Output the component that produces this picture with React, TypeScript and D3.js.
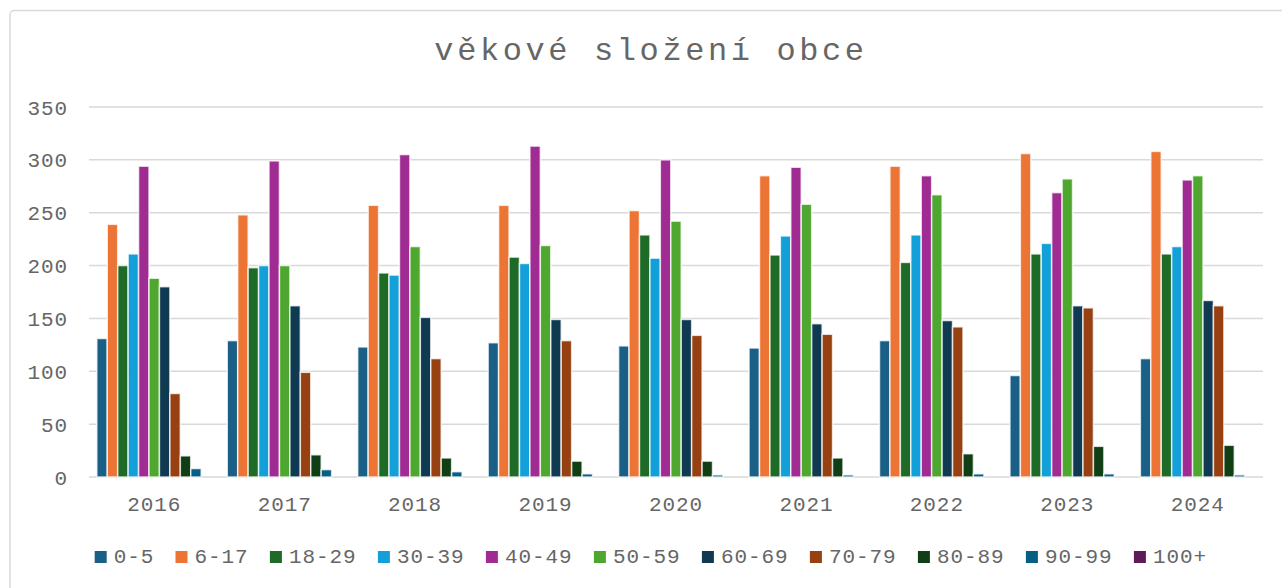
import React from "react";
import * as d3 from "d3";

const years = ["2016", "2017", "2018", "2019", "2020", "2021", "2022", "2023", "2024"];
const groups = ["0-5", "6-17", "18-29", "30-39", "40-49", "50-59", "60-69", "70-79", "80-89", "90-99", "100+"];
const colors = ["#1a5f85", "#ec7434", "#1e6b27", "#13a0d8", "#a02b93", "#4ea72e", "#0f3a52", "#974011", "#113f15", "#085f84", "#5f1a58"];

const v2016 = [131, 239, 200, 211, 294, 188, 180, 79, 20, 8, 0];
const v2017 = [129, 248, 198, 200, 299, 200, 162, 99, 21, 7, 0];
const v2018 = [123, 257, 193, 191, 305, 218, 151, 112, 18, 5, 0];
const v2019 = [127, 257, 208, 202, 313, 219, 149, 129, 15, 3, 0];
const v2020 = [124, 252, 229, 207, 300, 242, 149, 134, 15, 2, 0];
const v2021 = [122, 285, 210, 228, 293, 258, 145, 135, 18, 2, 0];
const v2022 = [129, 294, 203, 229, 285, 267, 148, 142, 22, 3, 0];
const v2023 = [96, 306, 211, 221, 269, 282, 162, 160, 29, 3, 0];
const v2024 = [112, 308, 211, 218, 281, 285, 167, 162, 30, 2, 0];
const values = [v2016, v2017, v2018, v2019, v2020, v2021, v2022, v2023, v2024];
const yTicks = [0, 50, 100, 150, 200, 250, 300, 350];

const W = 1282, H = 588;
const plotL = 89, plotR = 1263, plotT = 107, plotB = 477;
const FONT = "'Liberation Mono', 'DejaVu Sans Mono', monospace";
const TXT = "#666666";

export default function App() {
  const x = d3.scaleBand<string>().domain(years).range([plotL, plotR]).padding(0);
  const cw = x.bandwidth();
  const step = cw / (groups.length + 1.5);
  const inner = d3.scaleBand<string>().domain(groups)
    .range([step * 0.75, cw - step * 0.75]).padding(0);
  const y = d3.scaleLinear().domain([0, 350]).range([plotB, plotT]);

  // legend layout
  const charW = 13.6;
  const sq = 12, gapSq = 7, gapItem = 21;
  const widths = groups.map((g) => sq + gapSq + g.length * charW);
  const total = d3.sum(widths) + gapItem * (groups.length - 1);
  let lx = 651 - total / 2;
  const legendPos = widths.map((w) => { const p = lx; lx += w + gapItem; return p; });

  return (
    <svg width={W} height={H} style={{ position: "absolute", left: 0, top: 0, background: "#fff" }}
      fontFamily={FONT}>
      <rect x={10} y={10.5} width={1300} height={620} rx={4} fill="#fff" stroke="#d9d9d9" strokeWidth={1.5} />
      <text x={651} y={60} textAnchor="middle" fontSize={32} letterSpacing={3.6} fill={TXT}>věkové složení obce</text>
      {yTicks.map((t) => (
        <g key={t}>
          <line x1={plotL} x2={plotR} y1={y(t)} y2={y(t)} stroke="#d9d9d9" strokeWidth={1.5} />
          <text x={68} y={y(t)} dy="0.36em" textAnchor="end" fontSize={21} letterSpacing={0.9} fill={TXT}>{t}</text>
        </g>
      ))}
      {years.map((yr, i) => (
        <g key={yr} transform={`translate(${x(yr)},0)`}>
          {groups.map((g, j) => {
            const v = values[i][j];
            if (v <= 0) return null;
            return (
              <rect key={g} x={inner(g)!} y={y(v)} width={inner.bandwidth()} height={y(0) - y(v)}
                fill={colors[j]} stroke="#ffffff" strokeOpacity={0.75} strokeWidth={1.5} />
            );
          })}
          <text x={cw / 2} y={511} textAnchor="middle" fontSize={21} letterSpacing={0.9} fill={TXT}>{yr}</text>
        </g>
      ))}
      {groups.map((g, j) => (
        <g key={g} transform={`translate(${legendPos[j]},0)`}>
          <rect x={0} y={551} width={sq} height={sq} fill={colors[j]} />
          <text x={sq + gapSq} y={563} fontSize={21} letterSpacing={0.9} fill={TXT}>{g}</text>
        </g>
      ))}
    </svg>
  );
}
